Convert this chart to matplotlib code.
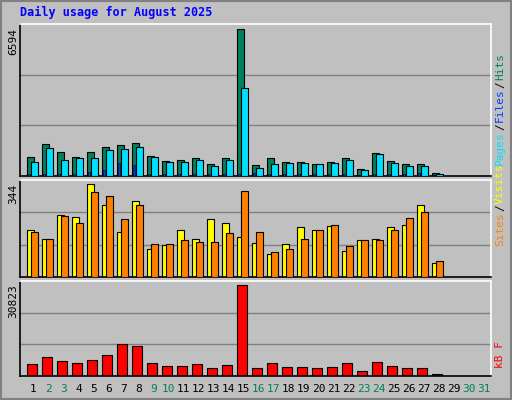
import matplotlib
matplotlib.use("Agg")
import matplotlib.pyplot as plt
from matplotlib.patches import Rectangle

days = list(range(1, 32))
hits = [855,1425,1065,855,1065,1290,1380,1470,885,660,705,795,525,795,6594,480,795,615,615,525,615,795,300,1020,660,525,525,120]
files = [615,1245,705,795,795,1155,1200,1290,840,615,615,705,435,705,3945,345,525,570,570,525,570,705,255,975,570,435,435,75]
pages = [90,90,90,90,180,270,570,495,90,90,90,90,90,90,90,150,90,90,90,90,90,90,60,90,90,90,150,30]
sites = [172,142,228,221,344,265,168,280,105,120,172,142,213,198,146,127,86,123,183,172,187,97,138,142,183,191,265,52]
visits = [168,142,224,198,314,299,213,265,123,123,138,131,131,164,318,168,93,105,142,172,191,116,138,138,172,217,239,60]
kbytes = [4162,6525,5175,4500,5512,7200,10912,10237,4500,3487,3487,4162,2812,3825,30823,2812,4500,3150,3150,2812,3150,4500,1800,4837,3487,2812,2812,787]
weekend = [2,3,9,10,16,17,23,24,30,31]

W, H = 512, 400
fig = plt.figure(figsize=(W/100, H/100), dpi=100)
fig.patch.set_facecolor('#C0C0C0')
fig.patches.append(Rectangle((0, 0), 1, 1, transform=fig.transFigure, fill=False,
                             edgecolor='#808080', lw=3))
mono = 'DejaVu Sans Mono'
fig.text(20/W, 1-12/H, 'Daily usage for August 2025', color='#0000FF', fontsize=8.5,
         fontweight='bold', family=mono, va='center')

def mkax(top, bot):
    ax = fig.add_axes([20/W, 1-bot/H, 471/W, (bot-top)/H])
    ax.set_facecolor('#C0C0C0')
    ax.set_xlim(0.11, 31.5)
    ax.set_xticks([]); ax.set_yticks([])
    for s in ['left', 'bottom']:
        ax.spines[s].set_color('black')
    for s in ['top', 'right']:
        ax.spines[s].set_color('white')
    for sp in ax.spines.values():
        sp.set_linewidth(1.2)
    return ax

n = len(hits)
x = days[:n]
black = dict(edgecolor='black', linewidth=0.8)

ax1 = mkax(24, 176)
m1 = max(hits) / 0.965
ax1.set_ylim(0, m1)
for f in (1/3, 2/3):
    ax1.axhline(m1*f, color='#808080', lw=1, zorder=0)
ax1.bar([d-0.2 for d in x], hits, width=0.45, color='#00805C', **black, zorder=2)
ax1.bar([d+0.07 for d in x], files, width=0.5, color='#00E0FF', **black, zorder=3)
ax1.bar([d-0.28 for d in x], pages, width=0.12, color='#0040FF', edgecolor='black', lw=0.4, zorder=4)

ax2 = mkax(180, 277)
m2 = max(sites) / 0.96
ax2.set_ylim(0, m2)
for f in (1/3, 2/3):
    ax2.axhline(m2*f, color='#808080', lw=1, zorder=0)
ax2.bar([d-0.2 for d in x], sites, width=0.45, color='#FFFF00', **black, zorder=2)
ax2.bar([d+0.07 for d in x], visits, width=0.5, color='#FF8000', **black, zorder=3)

ax3 = mkax(281, 376)
m3 = max(kbytes) / 0.96
ax3.set_ylim(0, m3)
for f in (1/3, 2/3):
    ax3.axhline(m3*f, color='#808080', lw=1, zorder=0)
ax3.bar([d-0.07 for d in x], kbytes, width=0.67, color='#FF0000', **black, zorder=2)

for d in days:
    ax3.text(d, -0.08, str(d), transform=ax3.get_xaxis_transform(), ha='center', va='top',
             fontsize=8, family=mono, color='#00805C' if d in weekend else 'black')

def ylab(y, s):
    fig.text(13/W, 1-y/H, s, rotation=90, ha='center', va='top', fontsize=8, family=mono)
ylab(28, str(max(hits)))
ylab(184, str(max(sites)))
ylab(284, str(max(kbytes)))

renderer = fig.canvas.get_renderer()
def rlab(ybot, parts):
    y = ybot
    for s, c in parts:
        t = fig.text(500/W, 1-y/H, s, rotation=90, ha='center', va='bottom', fontsize=8,
                     family=mono, color=c)
        y -= t.get_window_extent(renderer).height + 1
rlab(165, [('Pages', '#00E0FF'), ('/', 'black'), ('Files', '#0040FF'), ('/', 'black'), ('Hits', '#00805C')])
rlab(246, [('Sites', '#FF8000'), ('/', 'black'), ('Visits', '#FFFF00')])
rlab(368, [('kB F', '#FF0000')])

fig.savefig('out.png', dpi=100, facecolor=fig.get_facecolor())
